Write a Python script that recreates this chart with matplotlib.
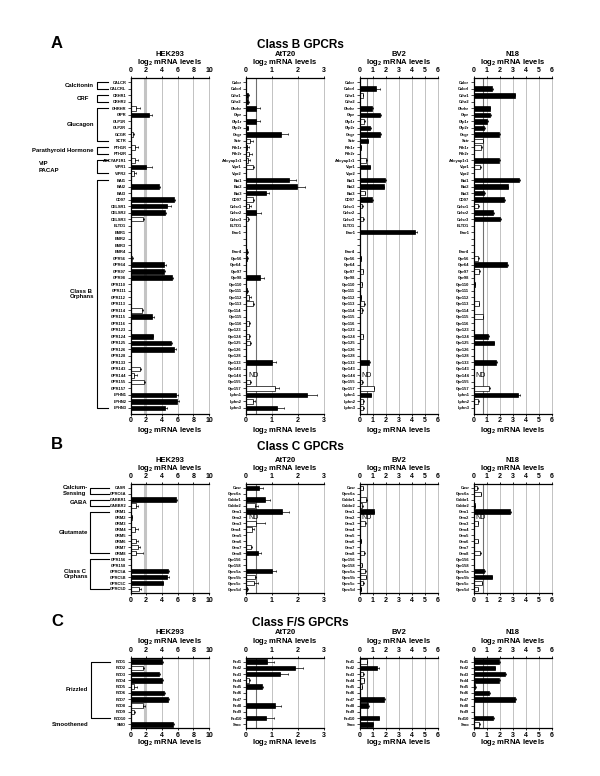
import matplotlib
matplotlib.use("Agg")
import matplotlib.pyplot as plt
from matplotlib.lines import Line2D
from matplotlib.transforms import blended_transform_factory

plt.rcParams['font.family'] = ['Liberation Sans', 'DejaVu Sans']
plt.rcParams['font.weight'] = 'bold'
plt.rcParams['mathtext.fontset'] = 'custom'
plt.rcParams['mathtext.rm'] = 'Liberation Sans:bold'
plt.rcParams['mathtext.bf'] = 'Liberation Sans:bold'
plt.rcParams['mathtext.default'] = 'bf'

# ---------------- Class B ----------------
b_hek_labels = ['CALCR', 'CALCRL', 'CRHR1', 'CRHR2', 'GHRHR', 'GIPR', 'GLP1R', 'GLP2R', 'GCGR', 'SCTR',
                'PTH1R', 'PTH2R', 'ADCYAP1R1', 'VIPR1', 'VIPR2', 'BAI1', 'BAI2', 'BAI3', 'CD97', 'CELSR1',
                'CELSR2', 'CELSR3', 'ELTD1', 'EMR1', 'EMR2', 'EMR3', 'EMR4', 'GPR56', 'GPR64', 'GPR97',
                'GPR98', 'GPR110', 'GPR111', 'GPR112', 'GPR113', 'GPR114', 'GPR115', 'GPR116', 'GPR123', 'GPR124',
                'GPR125', 'GPR126', 'GPR128', 'GPR133', 'GPR143', 'GPR144', 'GPR155', 'GPR157', 'LPHN1', 'LPHN2',
                'LPHN3']
b_mouse_labels = ['Calcr', 'Calcrl', 'Crhr1', 'Crhr2', 'Ghrhr', 'Gipr', 'Glp1r', 'Glp2r', 'Gcgr', 'Sctr',
                  'Pth1r', 'Pth2r', 'Adcyap1r1', 'Vipr1', 'Vipr2', 'Bai1', 'Bai2', 'Bai3', 'CD97', 'Celsr1',
                  'Celsr2', 'Celsr3', 'ELTD1', 'Emr1', '', '', 'Emr4', 'Gpr56', 'Gpr64', 'Gpr97',
                  'Gpr98', 'Gpr110', 'Gpr111', 'Gpr112', 'Gpr113', 'Gpr114', 'Gpr115', 'Gpr116', 'Gpr123', 'Gpr124',
                  'Gpr125', 'Gpr126', 'Gpr128', 'Gpr133', 'Gpr143', 'Gpr144', 'Gpr155', 'Gpr157', 'Lphn1', 'Lphn2',
                  'Lphn3']

# b = filled (black), w = open (white), . = nothing, n = ND
b_hek_val = [0, 0, 0, 0, 0.75, 2.4, 0, 0, 0.3, 0, 0.6, 0, 0.55, 2.0, 0.5, 0, 3.6, 0, 5.5, 4.7,
             4.35, 1.55, 0, 0, 0, 0, 0, 0.15, 4.3, 4.3, 5.25, 0, 0, 0, 0, 1.45, 2.75, 0, 0, 2.85,
             5.2, 5.5, 0, 0, 1.25, 0.4, 1.75, 0, 5.8, 5.9, 4.45]
b_hek_err = [0, 0, 0, 0, 0.5, 0.3, 0, 0, 0.2, 0, 0.3, 0, 0.35, 0.8, 0.2, 0, 0.15, 0, 0.2, 0.4,
             0.2, 0.2, 0, 0, 0, 0, 0, 0.15, 0.2, 0.05, 0.2, 0, 0, 0, 0, 0.1, 0.2, 0, 0, 0.05,
             0.1, 0.3, 0, 0, 0.1, 0.4, 0.15, 0, 0.2, 0.3, 0.2]
b_hek_fill = "....wb..w. w.wbw .b.bb bw... ..wbb b.... wb..b bb..w ww.bb b"

b_att_val = [0, 0, 0.08, 0.08, 0.4, 0, 0.4, 0.06, 1.36, 0.17, 0.05, 0.12, 0.08, 0.28, 0, 1.67, 1.95, 0.75, 0.27, 0.13,
             0.38, 0.08, 0, 0, 0, 0, 0.05, 0.05, 0, 0, 0.55, 0, 0.04, 0.12, 0.26, 0, 0, 0.13, 0, 0.1,
             0.15, 0, 0, 1.0, 0, 0, 0.16, 1.1, 2.33, 0.28, 1.2]
b_att_err = [0, 0, 0.05, 0.04, 0.13, 0, 0.12, 0.03, 0.24, 0.1, 0.05, 0.1, 0.06, 0.04, 0, 0.25, 0.3, 0.15, 0.05, 0.05,
             0.18, 0.05, 0, 0, 0, 0, 0.03, 0.03, 0, 0, 0.15, 0, 0.02, 0.06, 0.06, 0, 0, 0.03, 0, 0.06,
             0.04, 0, 0, 0.15, 0, 0, 0.05, 0.15, 0.4, 0.05, 0.25]
b_att_fill = "..bbb.bbbw bwww. bbbww bw... .bb.. b.bww ..w.w w..b. nwwbw b"

b_bv2_val = [0, 1.3, 0.25, 0, 0.97, 1.6, 0.35, 0.82, 1.55, 0.65, 0.1, 0.03, 0.52, 0.78, 0, 1.95, 1.85, 0.4, 0.97, 0.22,
             0, 0.28, 0, 4.25, 0, 0, 0, 0.1, 0, 0.25, 0, 0.2, 0, 0.08, 0.35, 0.22, 0, 0, 0, 0.25,
             0, 0, 0, 0.72, 0, 0, 0.22, 1.1, 0.87, 0.3, 0.3]
b_bv2_err = [0, 0.25, 0.03, 0, 0.1, 0.05, 0.05, 0.05, 0.08, 0.03, 0.02, 0, 0.08, 0.04, 0, 0.05, 0.05, 0.05, 0.05, 0.03,
             0, 0.05, 0, 0.15, 0, 0, 0, 0.02, 0, 0.02, 0, 0.02, 0, 0.02, 0.05, 0.02, 0, 0, 0, 0.03,
             0, 0, 0, 0.08, 0, 0, 0.03, 0.05, 0.05, 0.03, 0.03]
b_bv2_fill = ".bw.bbwbbb bbwb. bbwbw .w.b. ..b.w .w.bw w...w ...b. nwwbw w"

b_n18_val = [0, 1.42, 3.15, 0, 1.27, 1.3, 1.07, 0.83, 1.95, 0.7, 0.6, 0, 1.97, 0.52, 0, 3.5, 2.65, 0.83, 2.35, 0.38,
             1.52, 2.07, 0, 0, 0, 0, 0, 0.38, 2.58, 0.45, 0, 0.12, 0, 0, 0.4, 0, 0.7, 0, 0, 1.1,
             1.55, 0, 0, 1.72, 0, 0, 0, 1.2, 3.44, 0.36, 0]
b_n18_err = [0, 0.1, 0.05, 0, 0.03, 0.03, 0.05, 0.03, 0.05, 0.03, 0.03, 0, 0.03, 0.03, 0, 0.05, 0.03, 0.03, 0.03, 0.03,
             0.03, 0.03, 0, 0, 0, 0, 0, 0.03, 0.05, 0.03, 0, 0.02, 0, 0, 0.05, 0, 0.03, 0, 0, 0.1,
             0.05, 0, 0, 0.05, 0, 0, 0, 0.05, 0.1, 0.03, 0]
b_n18_fill = ".bb.bbbbbw w.bw. bbbbw bb... ..wbw .b..w .w..b b..b. n.wbw ."

# ---------------- Class C ----------------
c_hek_labels = ['CASR', 'GPRC6A', 'GABBR1', 'GABBR2', 'GRM1', 'GRM2', 'GRM3', 'GRM4', 'GRM5', 'GRM6',
                'GRM7', 'GRM8', 'GPR156', 'GPR158', 'GPRC5A', 'GPRC5B', 'GPRC5C', 'GPRC5D']
c_mouse_labels = ['Casr', 'Gprc6a', 'Gabbr1', 'Gabbr2', 'Grm1', 'Grm2', 'Grm3', 'Grm4', 'Grm5', 'Grm6',
                  'Grm7', 'Grm8', 'Gpr156', 'Gpr158', 'Gprc5a', 'Gprc5b', 'Gprc5c', 'Gprc5d']
c_hek_val = [0, 0, 5.75, 0.75, 0, 0.15, 0, 0.55, 0, 0.75, 1.0, 0.75, 0, 0, 4.8, 4.6, 4.1, 1.1]
c_hek_err = [0, 0, 0.15, 0.2, 0, 0.1, 0, 0.4, 0, 0.15, 0.2, 0.8, 0, 0, 0.15, 0.3, 0.1, 0.2]
c_hek_fill = "..bw.w.w.w ww..bbbw"
c_att_val = [0.5, 0, 0.73, 0.36, 1.4, 0, 0.38, 0.25, 0, 0, 0.18, 0.48, 0, 0, 1.0, 0.33, 0.3, 0.05]
c_att_err = [0.15, 0, 0.2, 0.1, 0.25, 0, 0.35, 0.05, 0, 0, 0.05, 0.1, 0, 0, 0.15, 0.05, 0.15, 0.02]
c_att_fill = "b.bwbnww.. wb..bwwb"
c_bv2_val = [0.25, 0, 0.5, 0.22, 1.1, 0, 0.45, 0, 0, 0.1, 0, 0.35, 0, 0.2, 0.45, 0.48, 0.3, 0.08]
c_bv2_err = [0.03, 0, 0.05, 0.03, 0.05, 0, 0.05, 0, 0, 0.02, 0, 0.05, 0, 0.02, 0.03, 0.03, 0.03, 0.02]
c_bv2_fill = "w.wwbnw..b .w.wwwwb"
c_n18_val = [0.28, 0.58, 0, 0.08, 2.8, 0, 0.35, 0, 0, 0.35, 0, 0.5, 0.05, 0.04, 0.82, 1.4, 0.62, 0.35]
c_n18_err = [0.03, 0.03, 0, 0.02, 0.05, 0, 0.03, 0, 0, 0.03, 0, 0.05, 0.02, 0.02, 0.03, 0.05, 0.03, 0.03]
c_n18_fill = "ww.bbnw..w .wbbbbww"

# ---------------- Class F/S ----------------
f_hek_labels = ['FZD1', 'FZD2', 'FZD3', 'FZD4', 'FZD5', 'FZD6', 'FZD7', 'FZD8', 'FZD9', 'FZD10', 'SMO']
f_mouse_labels = ['Fzd1', 'Fzd2', 'Fzd3', 'Fzd4', 'Fzd5', 'Fzd6', 'Fzd7', 'Fzd8', 'Fzd9', 'Fzd10', 'Smo']
f_hek_val = [3.95, 1.6, 3.6, 3.95, 0.45, 4.25, 4.8, 1.55, 0.45, 0, 5.45]
f_hek_err = [0.2, 0.15, 0.15, 0.15, 0.4, 0.2, 0.1, 0.25, 0.15, 0, 0.15]
f_hek_fill = "bwbbwbbww.b"
f_att_val = [0.82, 1.88, 1.31, 0.12, 0.6, 0, 0, 1.13, 0, 0.76, 0]
f_att_err = [0.25, 0.3, 0.3, 0.05, 0.05, 0, 0, 0.2, 0, 0.3, 0]
f_att_fill = "bbbwb..b.b."
f_bv2_val = [0.55, 1.38, 0.3, 0.35, 0.2, 0, 1.9, 0.67, 0, 1.46, 1.0]
f_bv2_err = [0.05, 0.1, 0.03, 0.03, 0.03, 0, 0.08, 0.03, 0, 0.05, 0.05]
f_bv2_fill = "wbwww.bb.bb"
f_n18_val = [1.97, 1.62, 2.4, 1.95, 0.15, 1.2, 3.2, 0, 0, 1.5, 0.45]
f_n18_err = [0.03, 0.03, 0.1, 0.05, 0.03, 0.03, 0.08, 0, 0, 0.05, 0.03]
f_n18_fill = "bbbbbbb..bw"

cells = ['HEK293', 'AtT20', 'BV2', 'N18']
x_max = [10, 3, 6, 6]
x_step = [2, 1, 1, 1]
threshold = [1.85, 0.37, 0.57, 0.75]

W, H = 600, 776
fig = plt.figure(figsize=(W / 100, H / 100), dpi=100)


def fx(x):
    return x / W


def fy(y):
    return 1 - y / H


col_px = [(130.5, 209), (246, 324), (359.5, 437.7), (473.5, 551.7)]


def draw_cell(ax, labels, vals, errs, fill, k, lo, hi):
    fill = fill.replace(' ', '')
    n = len(labels)
    ys = list(range(n))
    ax.set_xlim(0, x_max[k])
    ax.set_ylim(hi, lo)
    ticks = list(range(0, x_max[k] + 1, x_step[k]))
    ax.set_xticks(ticks)
    ax.set_xticklabels([str(t) for t in ticks], fontsize=5, fontweight='bold')
    for t in ticks[1:]:
        ax.axvline(t, color='#b8b8b8', lw=0.6, zorder=0, clip_on=False)
    if k == 0:
        ax.axvline(threshold[k], color='#c4c4c4', lw=2.2, zorder=0)
    else:
        ax.axvline(threshold[k], color='#707070', lw=0.8, zorder=0)
    for y, v, e, f in zip(ys, vals, errs, fill):
        if f == 'n':
            ax.annotate('ND', (0, y), xytext=(1.5, 0), textcoords='offset points',
                        va='center', ha='left', fontsize=5, fontweight='normal')
            continue
        if v <= 0:
            continue
        ax.barh(y, v, height=0.72, color='black' if f == 'b' else 'white',
                edgecolor='black', lw=0.5, zorder=2)
        if e > 0:
            ax.errorbar(v, y, xerr=[[0], [e]], fmt='none', ecolor='black',
                        elinewidth=0.5, capsize=0.9, capthick=0.5, zorder=3)
    ax.set_yticks(ys)
    ax.set_yticklabels(labels, fontsize=2.9, fontweight='bold')
    ax.tick_params(axis='y', length=2, width=0.5, pad=1)
    ax.tick_params(axis='x', length=1.5, width=0.6, pad=1.2, top=True, bottom=True,
                   labeltop=True, labelbottom=True)
    ax.spines['right'].set_visible(False)
    for s in ['left', 'top', 'bottom']:
        ax.spines[s].set_linewidth(0.9)


sections = [
    # letter, title, title y, head y, top, bottom, row0, rowN, xlabel y, labels, data
    ('A', 'Class B GPCRs', 43, 54, 78, 413.5, 82.3, 408, 430,
     [b_hek_labels, b_mouse_labels, b_mouse_labels, b_mouse_labels],
     [(b_hek_val, b_hek_err, b_hek_fill), (b_att_val, b_att_err, b_att_fill),
      (b_bv2_val, b_bv2_err, b_bv2_fill), (b_n18_val, b_n18_err, b_n18_fill)]),
    ('B', 'Class C GPCRs', 445, 460, 484, 593, 487.7, 589, None,
     [c_hek_labels, c_mouse_labels, c_mouse_labels, c_mouse_labels],
     [(c_hek_val, c_hek_err, c_hek_fill), (c_att_val, c_att_err, c_att_fill),
      (c_bv2_val, c_bv2_err, c_bv2_fill), (c_n18_val, c_n18_err, c_n18_fill)]),
    ('C', 'Class F/S GPCRs', 621, 633, 658, 728, 661.7, 724.3, 743,
     [f_hek_labels, f_mouse_labels, f_mouse_labels, f_mouse_labels],
     [(f_hek_val, f_hek_err, f_hek_fill), (f_att_val, f_att_err, f_att_fill),
      (f_bv2_val, f_bv2_err, f_bv2_fill), (f_n18_val, f_n18_err, f_n18_fill)]),
]

hek_axes = []
for letter, title, ty, head_y, top, bot, r0, rn, xl_y, labs, data in sections:
    n = len(labs[0])
    sp = (rn - r0) / (n - 1)
    lo = -(r0 - top) / sp
    hi = (n - 1) + (bot - rn) / sp
    fig.text(fx(57), fy(ty), letter, fontsize=12, fontweight='bold', ha='center', va='center')
    fig.text(fx(300), fy(ty + 2), title, fontsize=8.5, fontweight='bold', ha='center', va='center')
    for k in range(4):
        x0, x1 = col_px[k]
        ax = fig.add_axes([fx(x0), fy(bot), (x1 - x0) / W, (bot - top) / H])
        v, e, f = data[k]
        draw_cell(ax, labs[k], v, e, f, k, lo, hi)
        cx = fx((x0 + x1) / 2)
        fig.text(cx, fy(head_y), cells[k], fontsize=5.5, fontweight='bold', ha='center', va='center')
        fig.text(cx, fy(head_y + 8.5), 'log$_2$ mRNA levels', fontsize=5.5, fontweight='bold',
                 ha='center', va='center')
        if xl_y is not None:
            fig.text(cx, fy(xl_y), 'log$_2$ mRNA levels', fontsize=5.5, fontweight='bold',
                     ha='center', va='center')
        if k == 0:
            hek_axes.append(ax)


def bracket(ax, r_first, r_last, xv, xh):
    tr = blended_transform_factory(fig.transFigure, ax.transData)
    xs = [fx(xh), fx(xv), fx(xv), fx(xh)]
    ys = [r_first, r_first, r_last, r_last]
    fig.add_artist(Line2D(xs, ys, transform=tr, color='black', lw=0.8, clip_on=False))


def group_text(ax, x, row, s, ha='right'):
    tr = blended_transform_factory(fig.transFigure, ax.transData)
    ax.text(fx(x), row, s, transform=tr, ha=ha, va='center', fontsize=4.3,
            fontweight='bold', linespacing=1.1, clip_on=False)


axA, axB, axC = hek_axes
for a, b in [(0, 1), (2, 3), (4, 9), (10, 11), (12, 14), (15, 50)]:
    bracket(axA, a, b, 97.3, 108)
group_text(axA, 94, 0.5, 'Calcitonin')
group_text(axA, 89, 2.5, 'CRF')
group_text(axA, 94, 6.5, 'Glucagon')
group_text(axA, 94, 10.5, 'Parathyroid Hormone')
group_text(axA, 39, 12.45, 'VIP', ha='left')
group_text(axA, 39, 13.6, 'PACAP', ha='left')
group_text(axA, 70, 32.5, 'Class B\nOrphans', ha='left')

for a, b in [(0, 1), (2, 3), (4, 11), (12, 17)]:
    bracket(axB, a, b, 90, 109)
group_text(axB, 63, 0.5, 'Calcium-\nSensing', ha='left')
group_text(axB, 88, 2.5, 'GABA')
group_text(axB, 88, 7.5, 'Glutamate')
group_text(axB, 64, 14.5, 'Class C\nOrphans', ha='left')

bracket(axC, 0, 9, 90.7, 110)
group_text(axC, 88, 4.5, 'Frizzled')
group_text(axC, 88, 10, 'Smoothened')

fig.savefig('out.png', dpi=100)
